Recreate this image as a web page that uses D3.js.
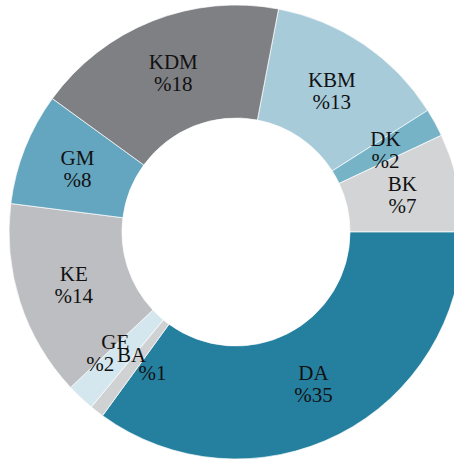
<!DOCTYPE html>
<html>
<head>
<meta charset="utf-8">
<script src="https://cdn.jsdelivr.net/npm/d3@7"></script>
<style>
  html, body { margin: 0; padding: 0; background: #fff; }
  svg { display: block; }
  .lbl { font-family: "Liberation Serif", "DejaVu Serif", serif; font-size: 21px; fill: #111; }
</style>
</head>
<body>
<svg id="chart" width="454" height="459"></svg>
<script>
// Chart data
const categories = ['KBM', 'DK', 'BK', 'DA', 'BA', 'GE', 'KE', 'GM', 'KDM'];
const shares = [13, 2, 7, 35, 1, 2, 14, 8, 18];
const colors = ['#a7cbd9', '#77b3c7', '#d3d4d6', '#2580a0', '#d0d1d3', '#d4e6ee', '#bdbec1', '#64a6bf', '#7f8084'];

// label nudges [dx, baseline dy] per line, where small slices crowd
const nudges = {
  GE: [[-4, -7], [-19, 15]],
  BA: [[0, -5], [21, 13]]
};

const cx = 236, cy = 232;
const rOuter = 227, rInner = 114;

const svg = d3.select('#chart');
const g = svg.append('g').attr('transform', `translate(${cx},${cy})`);

const data = categories.map((c, i) => ({ name: c, value: shares[i], color: colors[i] }));

// DA starts at 3 o'clock, so the first slice starts 22% before that
const total = d3.sum(shares);
const start = Math.PI / 2 - (shares[0] + shares[1] + shares[2]) / total * 2 * Math.PI;

const pie = d3.pie().value(d => d.value).sort(null)
  .startAngle(start).endAngle(start + 2 * Math.PI);

const arc = d3.arc().innerRadius(rInner).outerRadius(rOuter);
const arcs = pie(data);

g.append('g').selectAll('path').data(arcs).join('path')
  .attr('d', arc)
  .attr('fill', d => d.data.color)
  .attr('stroke', '#fff')
  .attr('stroke-width', 0.7);

const labels = g.append('g').selectAll('text').data(arcs).join('text')
  .attr('class', 'lbl')
  .attr('text-anchor', 'middle')
  .attr('transform', d => `translate(${arc.centroid(d)})`);

labels.each(function(d) {
  const t = d3.select(this);
  const nd = nudges[d.data.name];
  const lines = [d.data.name, '%' + d.data.value];
  lines.forEach((txt, i) => {
    let x = 0, y = i === 0 ? -4 : 18;
    if (nd) { x = nd[i][0]; y = nd[i][1]; }
    t.append('tspan').attr('x', x).attr('y', y).text(txt);
  });
});
</script>
</body>
</html>
